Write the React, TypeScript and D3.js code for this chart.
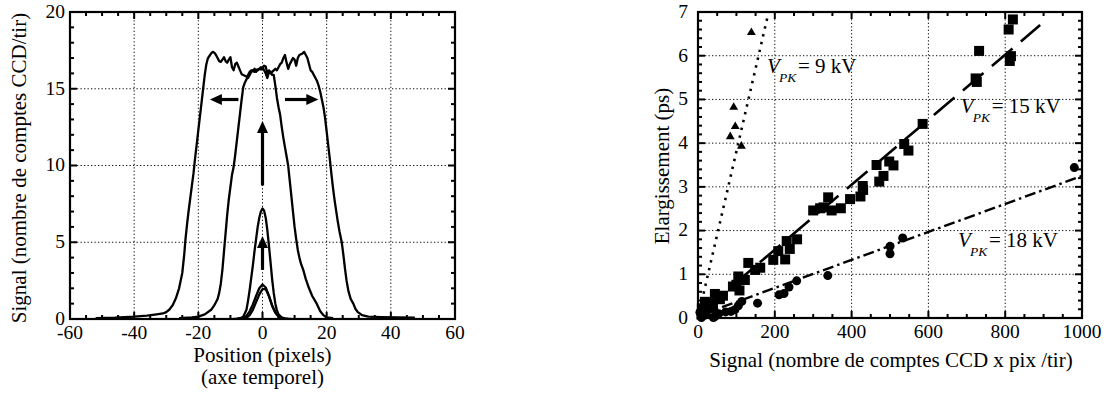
import React from "react";
import * as d3 from "d3";

type P = [number, number];

// ---------- Left chart data: Signal vs Position ----------
const curveWide: P[] = [
  [-52, 0.05], [-46, 0.08], [-40, 0.15], [-36, 0.22], [-33, 0.3], [-31, 0.36], [-30, 0.45], [-29, 0.62],
  [-28, 0.9], [-27, 1.35], [-26, 2.0], [-25, 3.0], [-24.4, 4.2], [-24, 5.2], [-23.5, 6.2], [-23, 7.1],
  [-22.5, 7.9], [-22, 8.7], [-21.5, 9.5], [-21, 10.5], [-20.5, 11.4], [-20, 12.3], [-19.5, 13.2],
  [-19, 14.1], [-18.5, 15.0], [-18, 15.9], [-17.5, 16.6], [-17, 17.0], [-16.5, 17.15], [-16, 17.3],
  [-15.5, 17.4], [-15, 17.35], [-14.5, 17.2], [-14, 17.0], [-13.5, 16.8], [-13, 16.75], [-12.5, 16.9],
  [-12, 17.05], [-11.5, 16.8], [-11, 16.7], [-10.5, 16.9], [-10, 17.05], [-9.5, 16.4], [-9, 16.2],
  [-8.5, 16.6], [-8, 16.7], [-7.5, 16.45], [-7, 16.2], [-6.5, 15.95], [-6, 15.9], [-5.5, 15.85],
  [-5, 15.8], [-4.5, 15.7], [-4, 15.9], [-3.5, 16.1], [-3, 16.2], [-2.5, 16.1], [-2, 16.25],
  [-1.5, 16.2], [-1, 16.3], [-0.5, 16.25], [0, 16.4], [0.5, 16.2], [1, 16.0], [1.5, 15.7], [2, 16.1],
  [2.5, 16.0], [3, 16.1], [3.5, 16.2], [4, 16.3], [4.5, 16.2], [5, 16.4], [5.5, 16.6], [6, 16.7],
  [6.5, 17.0], [7, 17.2], [7.5, 16.7], [8, 16.3], [8.5, 16.6], [9, 16.8], [9.5, 17.0], [10, 16.9],
  [10.5, 16.5], [11, 17.0], [11.5, 17.2], [12, 17.25], [12.5, 17.3], [13, 17.4], [13.5, 17.2],
  [14, 17.0], [14.5, 16.6], [15, 16.2], [15.5, 16.1], [16, 15.9], [16.5, 15.7], [17, 15.5],
  [17.5, 15.2], [18, 14.8], [18.5, 14.3], [19, 13.8], [19.5, 13.1], [20, 12.2], [20.5, 11.3],
  [21, 10.4], [21.5, 9.4], [22, 8.5], [22.5, 7.7], [23, 7.0], [23.5, 6.3], [24, 5.7], [24.7, 5.0],
  [25.2, 4.2], [25.7, 3.3], [26.2, 2.5], [26.8, 1.8], [27.5, 1.3], [28.3, 1.0], [29, 0.65],
  [29.7, 0.45], [30.4, 0.35], [31, 0.25], [33, 0.15], [37, 0.12], [42, 0.1], [47.5, 0.08],
];

const curveMid: P[] = [
  [-26, 0.05], [-22, 0.1], [-20, 0.15], [-18, 0.3], [-16, 0.6], [-15, 0.9], [-14, 1.3], [-13.5, 1.7],
  [-13, 2.3], [-12.5, 3.2], [-12, 4.4], [-11.5, 5.6], [-11, 6.8], [-10.5, 7.8], [-10, 8.6], [-9.5, 9.4],
  [-9, 9.9], [-8.5, 10.7], [-8, 11.6], [-7.5, 12.5], [-7, 13.4], [-6.5, 14.3], [-6, 15.1], [-5.5, 15.4],
  [-5, 15.6], [-4.5, 15.9], [-4, 16.1], [-3.5, 16.2], [-3, 16.15], [-2.5, 16.3], [-2, 16.1],
  [-1.5, 16.25], [-1, 16.3], [-0.5, 16.4], [0, 16.3], [0.5, 16.5], [1, 16.45], [1.5, 16.0], [2, 16.2],
  [2.5, 16.1], [3, 15.9], [3.5, 15.9], [4, 15.2], [4.5, 14.4], [5, 13.8], [5.5, 13.3], [6, 12.5],
  [6.5, 11.8], [7, 11.2], [7.5, 10.6], [8, 10.0], [8.5, 9.0], [9, 8.0], [9.5, 7.0], [10, 6.0],
  [10.5, 5.2], [11, 4.5], [11.5, 4.0], [12, 3.6], [12.7, 3.2], [13.5, 2.6], [14.5, 2.0], [15.5, 1.5],
  [16.9, 1.0], [18, 0.5], [19, 0.25], [20, 0.1], [22, 0.05],
];

const curvePeak7: P[] = [
  [-9, 0.01], [-8, 0.02], [-7, 0.05], [-6, 0.15], [-5, 0.6], [-4.5, 1.2], [-4, 1.9], [-3.5, 2.7],
  [-3, 3.5], [-2.5, 4.4], [-2, 5.2], [-1.5, 6.0], [-1, 6.6], [-0.5, 7.0], [0, 7.2], [0.5, 7.05],
  [1, 6.6], [1.5, 5.8], [2, 4.8], [2.5, 3.7], [3, 2.6], [3.5, 1.7], [4, 1.0], [4.5, 0.55], [5, 0.3],
  [6, 0.1], [7, 0.03], [9, 0.01],
];

const curvePeak2a: P[] = [
  [-8, 0.01], [-7, 0.02], [-6, 0.08], [-5, 0.2], [-4, 0.5], [-3, 0.95], [-2, 1.5], [-1, 2.0], [0, 2.25],
  [1, 2.05], [2, 1.5], [3, 0.85], [4, 0.4], [5, 0.15], [6, 0.05], [7, 0.02], [8, 0.01],
];

const curvePeak2b: P[] = [
  [-7, 0.01], [-6, 0.03], [-5, 0.08], [-4, 0.25], [-3, 0.6], [-2, 1.1], [-1, 1.6], [0, 1.95],
  [1, 1.95], [2, 1.5], [3, 0.9], [4, 0.45], [5, 0.18], [6, 0.06], [7, 0.02], [8, 0.01],
];

const leftCurves: P[][] = [curveWide, curveMid, curvePeak7, curvePeak2a, curvePeak2b];

// arrows: [x1, y1, x2, y2] in data units (head at x2,y2)
const leftArrows: [number, number, number, number][] = [
  [-7.5, 14.3, -16.4, 14.3],
  [7.0, 14.3, 17.4, 14.3],
  [0, 8.7, 0, 12.9],
  [0, 3.2, 0, 5.4],
];

const leftXTicks = [-60, -40, -20, 0, 20, 40, 60];
const leftYTicks = [0, 5, 10, 15, 20];

// ---------- Right chart data: Elargissement vs Signal ----------
const tri9kV: P[] = [
  [139, 6.53], [93, 4.82], [97, 4.38], [84, 4.15], [113, 3.93],
];

const sq15kV: P[] = [
  [809, 6.6], [820, 6.83], [732, 6.11], [815, 5.99], [812, 5.88], [723, 5.48], [726, 5.40],
  [585, 4.44], [537, 3.98], [548, 3.83], [465, 3.50], [498, 3.58], [509, 3.49], [483, 3.25],
  [472, 3.12], [429, 3.02], [430, 2.93], [423, 2.78], [396, 2.72], [339, 2.76], [372, 2.51],
  [348, 2.46], [318, 2.51], [327, 2.53], [300, 2.46], [258, 1.80], [231, 1.76], [239, 1.58],
  [227, 1.34], [209, 1.53], [196, 1.33], [162, 1.15], [149, 1.10], [131, 1.26], [122, 0.87],
  [105, 0.95], [100, 0.76], [91, 0.72], [108, 0.63], [65, 0.51], [44, 0.55], [57, 0.43],
  [36, 0.32], [29, 0.27], [18, 0.37], [17, 0.15], [10, 0.22], [39, 0.23], [9, 0.08],
];

const circ18kV: P[] = [
  [980, 3.44], [533, 1.83], [500, 1.64], [500, 1.47], [338, 0.97], [257, 0.85], [237, 0.71],
  [224, 0.56], [211, 0.53], [155, 0.34], [114, 0.38], [105, 0.28], [96, 0.19], [86, 0.15],
  [72, 0.14], [54, 0.10], [40, 0.01], [22, 0.08], [9, 0.01], [5, 0.13], [44, 0.03],
];

const fit9kV: P[] = [[5, 0.2], [180, 6.85]];
const fit15kV: P[] = [[10, 0.15], [891, 6.70]];
const fit18kV: P[] = [[10, 0.08], [1000, 3.25]];

const rightXTicks = [0, 200, 400, 600, 800, 1000];
const rightYTicks = [0, 1, 2, 3, 4, 5, 6, 7];

const FONT = "'Liberation Serif', 'Times New Roman', Times, serif";

type Scale = d3.ScaleLinear<number, number>;

function Frame(props: {
  x: Scale; y: Scale; xMajor: number[]; yMajor: number[]; xMinorStep: number; yMinorStep: number;
}) {
  const { x, y, xMajor, yMajor, xMinorStep, yMinorStep } = props;
  const [x0, x1] = x.range();
  const [y0, y1] = y.range(); // y0 bottom, y1 top
  const [dx0, dx1] = x.domain();
  const [dy0, dy1] = y.domain();
  const xMinor = d3.range(dx0, dx1 + 1e-9, xMinorStep);
  const yMinor = d3.range(dy0, dy1 + 1e-9, yMinorStep);
  const isMajor = (v: number, arr: number[]) => arr.some((a) => Math.abs(a - v) < 1e-6);
  const ticks: JSX.Element[] = [];
  xMinor.forEach((v, i) => {
    const L = isMajor(v, xMajor) ? 7 : 4;
    const px = x(v);
    ticks.push(<line key={"xb" + i} x1={px} x2={px} y1={y0} y2={y0 - L} />);
    ticks.push(<line key={"xt" + i} x1={px} x2={px} y1={y1} y2={y1 + L} />);
  });
  yMinor.forEach((v, i) => {
    const L = isMajor(v, yMajor) ? 7 : 4;
    const py = y(v);
    ticks.push(<line key={"yl" + i} x1={x0} x2={x0 + L} y1={py} y2={py} />);
    ticks.push(<line key={"yr" + i} x1={x1} x2={x1 - L} y1={py} y2={py} />);
  });
  return (
    <g>
      <g stroke="#111" strokeWidth={1} strokeDasharray="1.3,2.2">
        {xMajor.slice(1, -1).map((v) => (
          <line key={"gx" + v} x1={x(v)} x2={x(v)} y1={y0} y2={y1} />
        ))}
        {yMajor.slice(1, -1).map((v) => (
          <line key={"gy" + v} x1={x0} x2={x1} y1={y(v)} y2={y(v)} />
        ))}
      </g>
      <g stroke="#000" strokeWidth={2}>{ticks}</g>
      <rect x={x0} y={y1} width={x1 - x0} height={y0 - y1} fill="none" stroke="#000" strokeWidth={2.2} />
    </g>
  );
}

function TickLabels(props: { x: Scale; y: Scale; xTicks: number[]; yTicks: number[]; yLabelX: number; xLabelY: number }) {
  const { x, y, xTicks, yTicks, yLabelX, xLabelY } = props;
  return (
    <g fontFamily={FONT} fontSize={19.5} fill="#000">
      {xTicks.map((v) => (
        <text key={"lx" + v} x={x(v)} y={xLabelY} textAnchor="middle">{String(v)}</text>
      ))}
      {yTicks.map((v) => (
        <text key={"ly" + v} x={yLabelX} y={y(v)} dy="0.3em" textAnchor="end">{String(v)}</text>
      ))}
    </g>
  );
}

function Arrow({ a, x, y }: { a: [number, number, number, number]; x: Scale; y: Scale }) {
  const [ax1, ay1, ax2, ay2] = a;
  const X1 = x(ax1), Y1 = y(ay1), X2 = x(ax2), Y2 = y(ay2);
  const len = Math.hypot(X2 - X1, Y2 - Y1);
  const ux = (X2 - X1) / len, uy = (Y2 - Y1) / len;
  const hl = 12, hw = 5.5;
  const bx = X2 - ux * hl, by = Y2 - uy * hl;
  const pts = [
    [X2, Y2],
    [bx - uy * hw, by + ux * hw],
    [bx + uy * hw, by - ux * hw],
  ].map((p) => p.join(",")).join(" ");
  return (
    <g>
      <line x1={X1} y1={Y1} x2={bx + ux * 1} y2={by + uy * 1} stroke="#000" strokeWidth={3.2} />
      <polygon points={pts} fill="#000" />
    </g>
  );
}

function VLabel({ x, y, kv }: { x: number; y: number; kv: string }) {
  return (
    <g fontFamily={FONT} fill="#000">
      <text x={x} y={y} fontSize={21} fontStyle="italic">V</text>
      <text x={x + 12} y={y + 9} fontSize={13.5} fontStyle="italic">PK</text>
      <text x={x + 31} y={y} fontSize={21}>{"= " + kv + " kV"}</text>
    </g>
  );
}

export default function App() {
  const xL = d3.scaleLinear().domain([-60, 60]).range([70, 455]);
  const yL = d3.scaleLinear().domain([0, 20]).range([319, 12]);
  const xR = d3.scaleLinear().domain([0, 1000]).range([698, 1082]);
  const yR = d3.scaleLinear().domain([0, 7]).range([318, 12]);

  const lineL = d3.line<P>().x((d) => xL(d[0])).y((d) => yL(d[1]));
  const lineR = d3.line<P>().x((d) => xR(d[0])).y((d) => yR(d[1]));
  const tri = d3.symbol().type(d3.symbolTriangle).size(34)();

  return (
    <svg width={1104} height={394} style={{ position: "absolute", left: 0, top: 0, background: "#fff" }}>
      <rect x={0} y={0} width={1104} height={394} fill="#fff" />
      {/* ---------------- Left chart ---------------- */}
      <Frame x={xL} y={yL} xMajor={leftXTicks} yMajor={leftYTicks} xMinorStep={5} yMinorStep={1} />
      <g fill="none" stroke="#000" strokeWidth={2.3} strokeLinejoin="round">
        {leftCurves.map((c, i) => (
          <path key={"c" + i} d={lineL(c) || ""} />
        ))}
      </g>
      {leftArrows.map((a, i) => (
        <Arrow key={"a" + i} a={a} x={xL} y={yL} />
      ))}
      <TickLabels x={xL} y={yL} xTicks={leftXTicks} yTicks={leftYTicks} yLabelX={65} xLabelY={339} />
      <g fontFamily={FONT} fontSize={21} fill="#000">
        <text x={(70 + 455) / 2} y={362} textAnchor="middle">Position (pixels)</text>
        <text x={(70 + 455) / 2} y={384} textAnchor="middle">(axe temporel)</text>
        <text transform="translate(26,168) rotate(-90)" textAnchor="middle">Signal (nombre de comptes CCD/tir)</text>
      </g>

      {/* ---------------- Right chart ---------------- */}
      <Frame x={xR} y={yR} xMajor={rightXTicks} yMajor={rightYTicks} xMinorStep={50} yMinorStep={0.2} />
      <g fill="none" stroke="#000">
        <path d={lineR(fit9kV) || ""} strokeWidth={2.6} strokeDasharray="2.4,5.6" />
        <path d={lineR(fit15kV) || ""} strokeWidth={2.6} strokeDasharray="27,11" />
        <path d={lineR(fit18kV) || ""} strokeWidth={2.4} strokeDasharray="11,4,2.5,4" />
      </g>
      <g fill="#000">
        {sq15kV.map((d, i) => (
          <rect key={"s" + i} x={xR(d[0]) - 5} y={yR(d[1]) - 5} width={10} height={10} />
        ))}
        {circ18kV.map((d, i) => (
          <circle key={"o" + i} cx={xR(d[0])} cy={yR(d[1])} r={4.5} />
        ))}
        {tri9kV.map((d, i) => (
          <path key={"t" + i} d={tri || ""} transform={`translate(${xR(d[0])},${yR(d[1])})`} />
        ))}
      </g>
      <VLabel x={767} y={72.7} kv="9" />
      <VLabel x={960.7} y={113.3} kv="15" />
      <VLabel x={958} y={246.7} kv="18" />
      <TickLabels x={xR} y={yR} xTicks={rightXTicks} yTicks={rightYTicks} yLabelX={688} xLabelY={338} />
      <g fontFamily={FONT} fontSize={21} fill="#000">
        <text x={891} y={367} textAnchor="middle">Signal (nombre de comptes CCD x pix /tir)</text>
        <text transform="translate(669,166) rotate(-90)" textAnchor="middle">Elargissement (ps)</text>
      </g>
    </svg>
  );
}
